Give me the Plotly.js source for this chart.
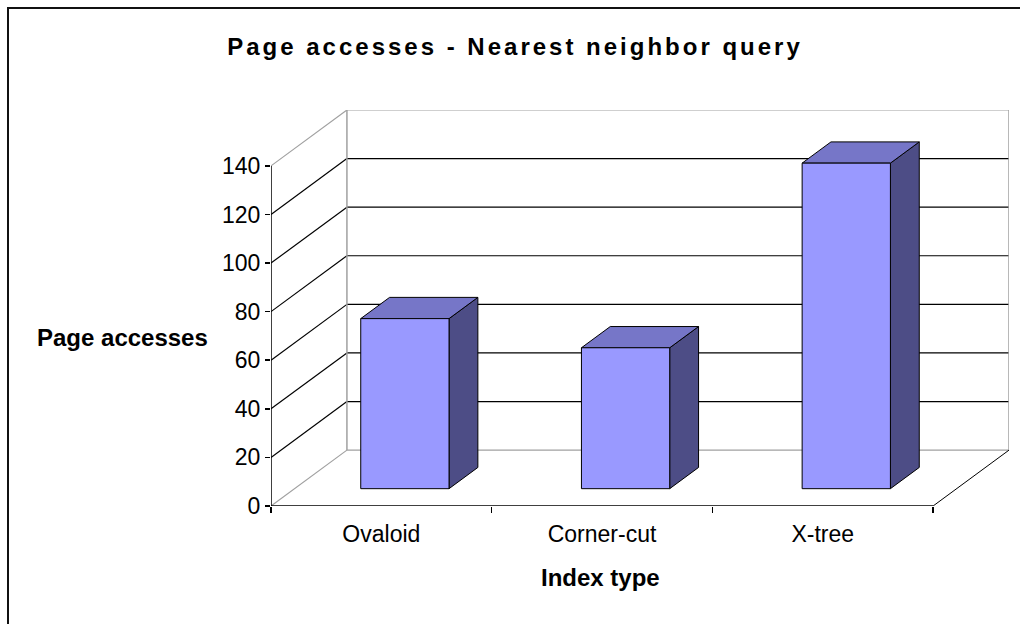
<!DOCTYPE html>
<html>
<head>
<meta charset="utf-8">
<script src="https://cdn.plot.ly/plotly-3.0.1.min.js"></script>
<style>
  html, body { margin: 0; padding: 0; background: #ffffff; }
  #chart { width: 1020px; height: 624px; }
  .gtitle { letter-spacing: 3px; }
</style>
</head>
<body>
<div id="chart"></div>
<script>
// Category labels and page-access counts
const CATEGORIES = ["Ovaloid", "Corner-cut", "X-tree"];
const PAGE_ACCESSES = [70, 58, 134];
const Y_TICKS = [0, 20, 40, 60, 80, 100, 120, 140];

// Pseudo-3D layout parameters (in axis units)
const Y_TOP = 140;          // top of the value scale
const DEPTH_X = 0.344;      // horizontal shift of the back wall
const DEPTH_Y = 23;         // vertical shift of the back wall
const BAR_WIDTH = 0.40;     // bar width in category units
const BAR_FRONT = 0.31;     // bar front face depth fraction
const BAR_BACK = 0.69;      // bar back face depth fraction

const W = 1020, H = 624;
const M = { l: 271, r: 11, t: 110, b: 118 };
const plotW = W - M.l - M.r, plotH = H - M.t - M.b;
const pxX = px => (px - M.l) / plotW;
const pxY = py => (H - M.b - py) / plotH;

const X0 = -0.5, X1 = CATEGORIES.length - 0.5;
const FONT = "Liberation Sans, Arial, sans-serif";
const GRID = "#000000", WALL = "#a0a0a0";

const shapes = [];
function seg(xa, ya, xb, yb, color, width, layer) {
  shapes.push({ type: "line", xref: "x", yref: "y", x0: xa, y0: ya, x1: xb, y1: yb,
    line: { color: color, width: width }, layer: layer || "below" });
}

// back wall + side wall gridlines
Y_TICKS.forEach(v => {
  const edge = (v === 0 || v === Y_TOP);
  const c = edge ? WALL : GRID;
  seg(X0, v, X0 + DEPTH_X, v + DEPTH_Y, c, 1.2);
  seg(X0 + DEPTH_X, v + DEPTH_Y, X1 + DEPTH_X, v + DEPTH_Y, c, 1.2);
});
// wall verticals
seg(X0 + DEPTH_X, DEPTH_Y, X0 + DEPTH_X, Y_TOP + DEPTH_Y, WALL, 1.5);
seg(X1 + DEPTH_X, DEPTH_Y, X1 + DEPTH_X, Y_TOP + DEPTH_Y, WALL, 1.5);
// floor right edge
seg(X1, 0, X1 + DEPTH_X, DEPTH_Y, "#000000", 1);
// front axes lines
seg(X0, 0, X1, 0, "#000000", 1.5, "above");
seg(X0, 0, X0, Y_TOP, "#000000", 1.5, "above");

// outer chart frame
shapes.push({ type: "rect", xref: "paper", yref: "paper",
  x0: pxX(8), y0: pxY(8), x1: pxX(W + 20), y1: pxY(H + 20),
  line: { color: "#111111", width: 2 }, fillcolor: "rgba(0,0,0,0)", layer: "above" });

// bar faces built from the values
const frontFaces = { x: [], y: [] }, topFaces = { x: [], y: [] }, sideFaces = { x: [], y: [] };
function poly(target, pts) {
  pts.forEach(p => { target.x.push(p[0]); target.y.push(p[1]); });
  target.x.push(pts[0][0]); target.y.push(pts[0][1]);
  target.x.push(null); target.y.push(null);
}
PAGE_ACCESSES.forEach((v, i) => {
  const xl = i - BAR_WIDTH / 2, xr = i + BAR_WIDTH / 2;
  const fx = BAR_FRONT * DEPTH_X, fy = BAR_FRONT * DEPTH_Y;
  const bx = BAR_BACK * DEPTH_X, by = BAR_BACK * DEPTH_Y;
  poly(frontFaces, [[xl + fx, fy], [xr + fx, fy], [xr + fx, v + fy], [xl + fx, v + fy]]);
  poly(topFaces, [[xl + fx, v + fy], [xr + fx, v + fy], [xr + bx, v + by], [xl + bx, v + by]]);
  poly(sideFaces, [[xr + fx, fy], [xr + bx, by], [xr + bx, v + by], [xr + fx, v + fy]]);
});
const face = (d, color) => ({
  type: "scatter", mode: "lines", x: d.x, y: d.y, fill: "toself", fillcolor: color,
  line: { color: "#000000", width: 1 }, hoverinfo: "skip", showlegend: false,
  connectgaps: false
});
const data = [face(sideFaces, "#4d4d86"), face(topFaces, "#7676c8"), face(frontFaces, "#9999ff")];

const layout = {
  width: W, height: H,
  margin: M,
  paper_bgcolor: "#ffffff", plot_bgcolor: "rgba(0,0,0,0)",
  showlegend: false,
  title: {
    text: "Page accesses - Nearest neighbor query",
    font: { family: FONT, size: 24, color: "#000000", weight: "bold" },
    xref: "container", yref: "container",
    x: 515 / W, y: 1 - 47 / H, xanchor: "center", yanchor: "middle"
  },
  xaxis: {
    range: [X0, X1 + DEPTH_X], fixedrange: true,
    showgrid: false, zeroline: false, showline: false,
    tickmode: "array", tickvals: CATEGORIES.map((c, i) => i), ticktext: CATEGORIES,
    ticks: "", ticklabelstandoff: 12,
    tickfont: { family: FONT, size: 23, color: "#000000" },
    minor: {
      tickmode: "array", tickvals: CATEGORIES.map((c, i) => i - 0.5).concat([X1]),
      ticks: "outside", ticklen: 6, tickwidth: 1.5, tickcolor: "#000000", showgrid: false
    }
  },
  yaxis: {
    range: [0, Y_TOP + DEPTH_Y], fixedrange: true,
    showgrid: false, zeroline: false, showline: false,
    tickmode: "array", tickvals: Y_TICKS,
    ticks: "outside", ticklen: 5, tickwidth: 1.5, tickcolor: "#000000",
    tickfont: { family: FONT, size: 23, color: "#000000" }
  },
  shapes: shapes,
  annotations: [
    { text: "<b>Page accesses</b>", xref: "paper", yref: "paper",
      x: pxX(35), y: pxY(337), xanchor: "left", yanchor: "middle", showarrow: false,
      font: { family: FONT, size: 24, color: "#000000" } },
    { text: "<b>Index type</b>", xref: "paper", yref: "paper",
      x: pxX(600), y: pxY(577), xanchor: "center", yanchor: "middle", showarrow: false,
      font: { family: FONT, size: 24, color: "#000000" } }
  ]
};

Plotly.newPlot("chart", data, layout, { displayModeBar: false, staticPlot: true });
</script>
</body>
</html>
